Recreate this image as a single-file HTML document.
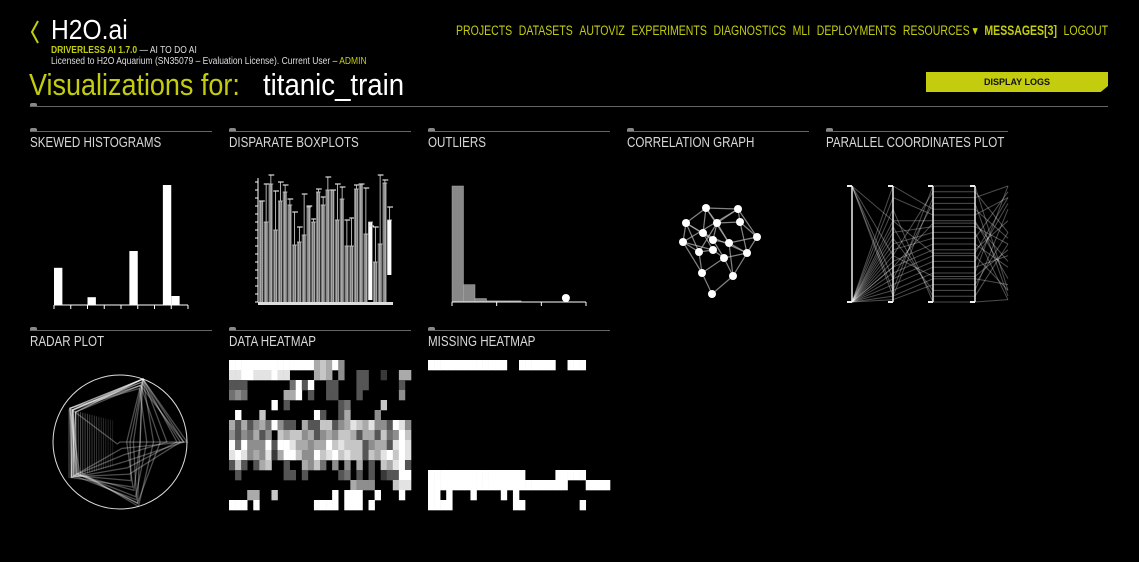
<!DOCTYPE html>
<html><head><meta charset="utf-8">
<style>
html,body{margin:0;padding:0;background:#000;width:1139px;height:562px;overflow:hidden;font-family:"Liberation Sans",sans-serif;}
.a{position:absolute;white-space:nowrap;}
.acc{color:#c3cd0e;}
.nav{position:absolute;left:456px;top:23px;width:836px;display:flex;justify-content:space-between;font-size:13.5px;color:#c3cd0e;transform:scaleX(0.78);transform-origin:0 0;}
.title{position:absolute;font-size:14.5px;color:#d8d8d8;transform:scaleX(0.8);transform-origin:0 0;}
.cardline{position:absolute;height:1px;background:#666;width:182px;}
.tab{position:absolute;width:7px;height:3px;background:#888;border-radius:2px 2px 0 0;}
</style></head>
<body>
<svg class="a" style="left:28px;top:18px" width="14" height="28"><polyline points="10,3 4,14 10,25" fill="none" stroke="#c3cd0e" stroke-width="2"/></svg>
<div class="a" style="left:51px;top:14px;font-size:28px;color:#fff;transform:scaleX(0.88);transform-origin:0 0;">H2O.ai</div>
<div class="a acc" style="left:51px;top:45px;font-size:10px;font-weight:bold;transform:scaleX(0.85);transform-origin:0 0;">DRIVERLESS AI 1.7.0 <span style="color:#ddd;font-weight:normal">— AI TO DO AI</span></div>
<div class="a" style="left:51px;top:56px;font-size:10px;color:#ddd;transform:scaleX(0.85);transform-origin:0 0;">Licensed to H2O Aquarium (SN35079 – Evaluation License). Current User – <span class="acc">ADMIN</span></div>
<div class="a acc" style="left:29px;top:67px;font-size:31px;transform:scaleX(0.87);transform-origin:0 0;">Visualizations for:</div>
<div class="a" style="left:263px;top:67px;font-size:31px;color:#fff;transform:scaleX(0.89);transform-origin:0 0;">titanic_train</div>
<div class="nav">
<span>PROJECTS</span>
<span>DATASETS</span>
<span>AUTOVIZ</span>
<span>EXPERIMENTS</span>
<span>DIAGNOSTICS</span>
<span>MLI</span>
<span>DEPLOYMENTS</span>
<span>RESOURCES ▾</span>
<span style="font-weight:bold">MESSAGES[3]</span>
<span>LOGOUT</span>
</div>
<div class="a" style="left:926px;top:72px;width:182px;height:20px;background:#c3cd0e;color:#111;font-size:9px;font-weight:bold;text-align:center;line-height:20px;clip-path:polygon(0 0,100% 0,100% 70%,96% 100%,0 100%);">DISPLAY LOGS</div>
<div class="a" style="left:30px;top:106px;width:1078px;height:1px;background:#666;"></div>
<div class="tab" style="left:30px;top:103px;"></div>

<div class="cardline" style="left:30px;top:131px"></div><div class="tab" style="left:30px;top:128px"></div>
<div class="title" style="left:30px;top:135px">SKEWED HISTOGRAMS</div>
<div class="cardline" style="left:229px;top:131px"></div><div class="tab" style="left:229px;top:128px"></div>
<div class="title" style="left:229px;top:135px">DISPARATE BOXPLOTS</div>
<div class="cardline" style="left:428px;top:131px"></div><div class="tab" style="left:428px;top:128px"></div>
<div class="title" style="left:428px;top:135px">OUTLIERS</div>
<div class="cardline" style="left:627px;top:131px"></div><div class="tab" style="left:627px;top:128px"></div>
<div class="title" style="left:627px;top:135px">CORRELATION GRAPH</div>
<div class="cardline" style="left:826px;top:131px"></div><div class="tab" style="left:826px;top:128px"></div>
<div class="title" style="left:826px;top:135px">PARALLEL COORDINATES PLOT</div>
<div class="cardline" style="left:30px;top:330px"></div><div class="tab" style="left:30px;top:327px"></div>
<div class="title" style="left:30px;top:334px">RADAR PLOT</div>
<div class="cardline" style="left:229px;top:330px"></div><div class="tab" style="left:229px;top:327px"></div>
<div class="title" style="left:229px;top:334px">DATA HEATMAP</div>
<div class="cardline" style="left:428px;top:330px"></div><div class="tab" style="left:428px;top:327px"></div>
<div class="title" style="left:428px;top:334px">MISSING HEATMAP</div>

<svg id="s" width="1139" height="562" style="position:absolute;left:0;top:0"></svg>
<script>
// ---- data ----
const histSlots = [62,0,0,0,13,0,0,0,0,90,0,0,0,200,15,0];
const boxHi = [101,118,127,111,120,117,103,90,75,108,96,83,113,105,125,112,118,115,82,84,117,118,114,76,75,127,122,95];
const boxQ3 = [101,80,118,72,101,110,97,57,60,67,95,80,110,97,112,112,82,103,56,56,113,118,68,80,40,58,119,82];
const boxQ1 = [0,0,0,0,0,0,0,0,0,0,0,0,0,0,0,0,0,0,0,0,0,0,0,2,0,0,0,27];
const boxWhite = [0,0,0,0,0,0,0,0,0,0,0,0,0,0,0,0,0,0,0,0,0,0,0,1,0,0,0,1];
const outBins = [100,15,3,1,1,1];
const outPoint = [0.85];
const nodeX = [706,738,686,717,740,703,683,757,713,729,699,713,747,724,702,733,712];
const nodeY = [208,209,223,223,222,233,242,237,240,243,252,250,253,258,273,276,294];
const edgeA = [0,0,0,0,1,1,1,2,2,2,3,3,3,4,4,5,5,6,6,7,7,8,8,9,9,10,10,11,12,12,13,14,14,15,0,2,6,1,3,5];
const edgeB = [1,3,5,2,4,3,7,5,6,10,8,9,4,7,12,8,11,10,14,9,12,9,13,12,15,11,14,13,13,15,15,16,13,16,9,8,11,6,10,12];
const pc1 = [1,1,1,1,0,0,0,0,0,0,0,0,0,0,0,0,0,0,0,0,0,0,1,0];
const pc2 = [0.1,0.4,0.05,0.2,1,0.9,0.7,0.6,0.5,0.45,0.35,0.3,0.25,0.2,0.15,0.1,0.05,0.02,0.55,0.65,0.8,0.3,0.7,0.4];
const pc3 = [1,0.95,0.9,0.85,0.8,0.75,0.7,0.65,0.6,0.55,0.5,0.45,0.4,0.35,0.3,0.25,0.2,0.15,0.1,0.05,0,0.68,0.42,0.22];
const pc4 = [1,0.95,0.9,0.85,0.8,0.75,0.7,0.65,0.6,0.55,0.5,0.45,0.4,0.35,0.3,0.25,0.2,0.15,0.1,0.05,0,0.68,0.42,0.22];
const pc5 = [0.1,0.6,1,0.05,0.55,0.9,0.2,0.5,0.02,0.95,0.3,0.7,0.1,0.85,0.4,1,0.15,0.6,0.8,0.5,0.02,0.35,0.9,0.45];
const radarAngles = [-70,0,74,144,214];
const radarR1 = [1,1,0.9,1,0.95,1,0.9,1,0.85,1,1,0.9,1,0.95];
const radarR2 = [1,0.2,0.95,0.3,0.9,0.5,0.1,0.7,0.4,0.85,0.15,0.6,0.95,0.3];
const radarR3 = [0,0.9,0.3,0.95,0.5,1,0.7,0.2,0.85,0.4,0.6,0.95,0.1,0.75];
const radarR4 = [0.05,0.85,0.9,0.8,0.88,0.75,0.9,0.85,0.8,0.9,0.85,0.78,0.88,0.82];
const radarR5 = [0.9,0.85,0.9,0.8,0.86,0.9,0.8,0.85,0.9,0.86,0.8,0.85,0.9,0.86];
const heatRows = [
"999999999999996769500000000000",
"889988898800006760500330020066",
"333000000049390033000330000030",
"454000000669030033000300000050",
"000000090300000000340000070000",
"090007000000009300360000500000",
"636356495330633773568768553985",
"535463507677563565776366374597",
"949555939986656697877735663898",
"898565826997559789787737689798",
"373036700300657405050603076893",
"030000000330300000340303023399",
"000000000000000000006555000788",
"000660070000000009099900900090",
"999090000000009999099909000000"];
const missRows = [
"111111111111100111111001110000",
"000000000000000000000000000000","000000000000000000000000000000","000000000000000000000000000000",
"000000000000000000000000000000","000000000000000000000000000000","000000000000000000000000000000",
"000000000000000000000000000000","000000000000000000000000000000","000000000000000000000000000000",
"000000000000000000000000000000",
"111111111111111100000111110000",
"111111111111111111111110001111",
"110100010000101000000000000000",
"111100000000001100000000010000"];

const NS='http://www.w3.org/2000/svg', svg=document.getElementById('s');
function mk(t,a,p){const e=document.createElementNS(NS,t);for(const k in a)e.setAttribute(k,a[k]);(p||svg).appendChild(e);return e;}

// histogram
{const x0=54,x1=188,y0=305,h=120,w=(x1-x0)/histSlots.length,mx=Math.max(...histSlots);
const g=mk('g',{});
histSlots.forEach((v,i)=>{if(!v)return;const bh=v/mx*h;const r=mk('rect',{x:x0+i*w,y:y0-bh,width:w,height:bh,fill:'#fff'},g);
});
mk('line',{x1:x0,x2:x1,y1:y0,y2:y0,stroke:'#fff','stroke-width':1},g);
for(let i=0;i<=8;i++)mk('line',{x1:x0+i*(x1-x0)/8,x2:x0+i*(x1-x0)/8,y1:y0,y2:y0+4,stroke:'#fff'},g);}

// boxplots
{const x0=259,x1=392,y0=302,n=boxHi.length,w=(x1-x0)/n;
const g=mk('g',{});
mk('line',{x1:258,x2:258,y1:178,y2:y0,stroke:'#fff'},g);
for(let t=0;t<16;t++)mk('line',{x1:255,x2:258,y1:y0-t*8,y2:y0-t*8,stroke:'#fff'},g);
boxHi.forEach((hi,i)=>{const cx=x0+i*w;
 const b=mk('rect',{x:cx,y:y0-boxQ3[i],width:w-0.6,height:boxQ3[i]-boxQ1[i],fill:boxWhite[i]?'#fff':'#777'},g);
 
 if(!boxWhite[i]){for(let k=1;k<3;k++)mk('line',{x1:cx+k*w/3,x2:cx+k*w/3,y1:y0-boxQ3[i],y2:y0,stroke:'#ddd','stroke-width':0.5},g);}
 mk('line',{x1:cx+w/2,x2:cx+w/2,y1:y0-hi,y2:y0-boxQ3[i],stroke:'#ddd','stroke-width':0.8},g);
 mk('line',{x1:cx,x2:cx+w+1,y1:y0-hi,y2:y0-hi,stroke:'#ddd','stroke-width':1.2},g);
 mk('line',{x1:cx,x2:cx+w,y1:y0-boxQ3[i],y2:y0-boxQ3[i],stroke:'#ccc','stroke-width':0.8},g);
});
mk('rect',{x:258,y:y0,width:135,height:3,fill:'#ddd'},g);}

// outliers
{const x0=452,x1=586,y0=302,bw=11.5,mx=Math.max(...outBins);
const g=mk('g',{});
outBins.forEach((v,i)=>{const bh=v/mx*116;const r=mk('rect',{x:x0+i*bw,y:y0-bh,width:bw,height:bh,fill:'#888',stroke:'#aaa','stroke-width':0.5},g);
});
outPoint.forEach(p=>{const c=mk('circle',{cx:x0+p*(x1-x0),cy:y0-4,r:4,fill:'#fff'},g);});
mk('line',{x1:x0,x2:x1,y1:y0,y2:y0,stroke:'#fff'},g);
for(let i=0;i<=3;i++)mk('line',{x1:x0+i*(x1-x0)/3,x2:x0+i*(x1-x0)/3,y1:y0,y2:y0+4,stroke:'#fff'},g);}

// correlation graph
{const g=mk('g',{});
edgeA.forEach((a,i)=>{const b=edgeB[i];mk('line',{x1:nodeX[a],y1:nodeY[a],x2:nodeX[b],y2:nodeY[b],stroke:'#bbb','stroke-width':1.2,'stroke-opacity':0.7},g);});
nodeX.forEach((x,i)=>{const c=mk('circle',{cx:x,cy:nodeY[i],r:4,fill:'#fff'},g);});}

// parallel coordinates
{const ax=[852,893,933,975,1008],yt=186,yb=302,cols=[pc1,pc2,pc3,pc4,pc5];
const g=mk('g',{});
const Y=v=>yb-v*(yb-yt);
pc1.forEach((_,r)=>{let d='';cols.forEach((c,k)=>{d+=(k?'L':'M')+ax[k]+','+Y(c[r]);});
 const p=mk('path',{d:d,fill:'none',stroke:'#fff','stroke-opacity':0.3,'stroke-width':1},g);});
ax.slice(0,4).forEach(x=>{mk('line',{x1:x,x2:x,y1:yt,y2:yb,stroke:'#eee','stroke-width':1.5},g);
 mk('line',{x1:x-5,x2:x,y1:yt,y2:yt,stroke:'#eee','stroke-width':2},g);mk('line',{x1:x-5,x2:x,y1:yb,y2:yb,stroke:'#eee','stroke-width':2},g);});}

// radar
{const cx=120,cy=442,R=67,cols=[radarR1,radarR2,radarR3,radarR4,radarR5];
const g=mk('g',{});
mk('circle',{cx:cx,cy:cy,r:R,fill:'none',stroke:'#ddd','stroke-width':1},g);
for(let i=0;i<20;i++)mk('line',{x1:69+i*2.3,x2:69+i*2.3,y1:409+i*0.6,y2:478-i*0.6,stroke:'#999','stroke-width':0.8,'stroke-opacity':0.7-i*0.025},g);
radarR1.forEach((_,r)=>{let d='';cols.forEach((c,k)=>{const a=radarAngles[k]*Math.PI/180;d+=(k?'L':'M')+(cx+Math.cos(a)*R*c[r])+','+(cy+Math.sin(a)*R*c[r]);});
 const p=mk('path',{d:d+'Z',fill:'none',stroke:'#fff','stroke-opacity':0.3,'stroke-width':1.3},g);});}

// heatmaps
function heat(rows,x0,y0,w,h,name,bin){const g=mk('g',{});
 const nr=rows.length,nc=rows[0].length,cw=w/nc,ch=h/nr;
 rows.forEach((row,r)=>{[...row].forEach((c,k)=>{const v=+c;if(!v)return;const lv=bin?255:Math.round(v/9*255);
  const e=mk('rect',{x:x0+k*cw,y:y0+r*ch,width:cw+0.3,height:ch+0.3,fill:'rgb('+lv+','+lv+','+lv+')'},g);
  });});}
heat(heatRows,229,360,182,150,'data-heatmap',false);
heat(missRows,428,360,182,150,'missing-heatmap',true);
</script>
</body></html>
